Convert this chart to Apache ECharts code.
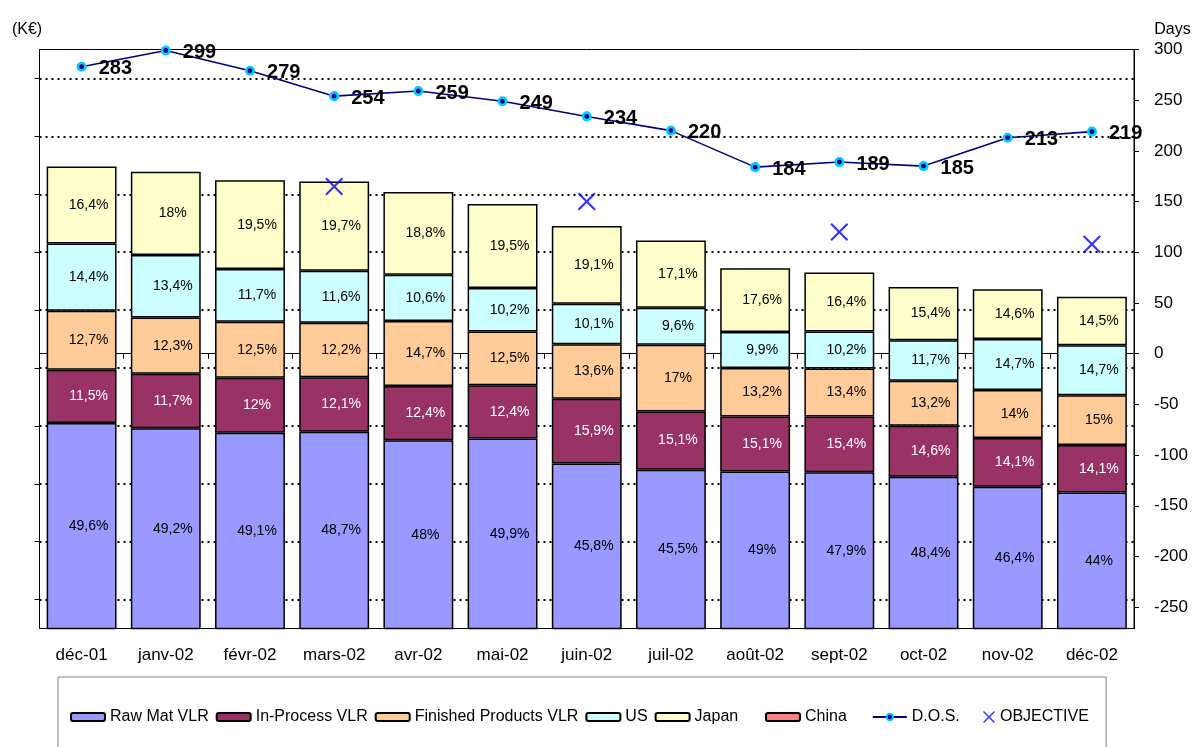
<!DOCTYPE html>
<html>
<head>
<meta charset="utf-8">
<title>Stock value and days of stock</title>
<script src="https://cdn.jsdelivr.net/npm/echarts@6/dist/echarts.min.js"></script>
<style>
  html, body { margin: 0; padding: 0; background: #fff; }
  #chart { width: 1196px; height: 747px; }
</style>
</head>
<body>
<div id="chart"></div>
<script>
const FONT = '"Liberation Sans", Arial, Helvetica, sans-serif';

const months = ['déc-01', 'janv-02', 'févr-02', 'mars-02', 'avr-02', 'mai-02', 'juin-02',
                'juil-02', 'août-02', 'sept-02', 'oct-02', 'nov-02', 'déc-02'];

// Stock value per family (K€)
const rawMat    = [405, 396, 388, 390, 375, 378, 335, 324, 321, 320, 312, 295, 285];
const inProcess = [92, 94, 95, 94, 94, 92, 112, 101, 95, 96, 88, 84, 82];
const finished  = [102, 97, 97, 94, 112, 93, 94, 115, 84, 83, 78, 83, 86];
const us        = [116, 108, 91, 90, 80, 75, 70, 64, 62, 64, 70, 88, 86];
const japan     = [133, 144, 153, 154, 143, 145, 134, 116, 110, 102, 92, 86, 84];
const china     = [null, null, null, null, null, null, null, null, null, null, null, null, null];

// Share of each family printed on the segments (%)
const rawMatPct    = [49.6, 49.2, 49.1, 48.7, 48, 49.9, 45.8, 45.5, 49, 47.9, 48.4, 46.4, 44];
const inProcessPct = [11.5, 11.7, 12, 12.1, 12.4, 12.4, 15.9, 15.1, 15.1, 15.4, 14.6, 14.1, 14.1];
const finishedPct  = [12.7, 12.3, 12.5, 12.2, 14.7, 12.5, 13.6, 17, 13.2, 13.4, 13.2, 14, 15];
const usPct        = [14.4, 13.4, 11.7, 11.6, 10.6, 10.2, 10.1, 9.6, 9.9, 10.2, 11.7, 14.7, 14.7];
const japanPct     = [16.4, 18, 19.5, 19.7, 18.8, 19.5, 19.1, 17.1, 17.6, 16.4, 15.4, 14.6, 14.5];

// Days of stock and target (Days)
const dos       = [283, 299, 279, 254, 259, 249, 234, 220, 184, 189, 185, 213, 219];
const objective = [null, null, null, 165, null, null, 150, null, null, 120, null, null, 108];

// Tick positions of both value axes
const valueTicks = [100, 200, 300, 400, 500, 600, 700, 800, 900, 1000];
const dayTicks   = [-250, -200, -150, -100, -50, 0, 50, 100, 150, 200, 250, 300];

const fmtPct = v => String(v).replace('.', ',') + '%';

function stackBar(name, values, pcts, color, textColor) {
  return {
    name: name,
    type: 'bar',
    stack: 'stock',
    yAxisIndex: 0,
    data: values,
    barCategoryGap: '17%',
    itemStyle: { color: color, borderColor: '#000', borderWidth: 1.5 },
    label: {
      show: pcts !== null,
      position: 'inside',
      offset: [7, 0],
      color: textColor,
      fontSize: 14,
      fontFamily: FONT,
      formatter: p => fmtPct(pcts[p.dataIndex])
    }
  };
}

const CROSS = 'path://M1.5,0 L9,7.5 L16.5,0 L18,1.5 L10.5,9 L18,16.5 L16.5,18 L9,10.5 L1.5,18 L0,16.5 L7.5,9 L0,1.5 Z';

const legendText = { fontSize: 16, fontFamily: FONT, color: '#000' };

const chart = echarts.init(document.getElementById('chart'));

chart.setOption({
  animation: false,
  backgroundColor: '#fff',
  textStyle: { fontFamily: FONT, color: '#000' },
  grid: {
    left: 39.5, right: 62, top: 49.5, bottom: 118.5,
    show: true, borderColor: '#000', borderWidth: 1, backgroundColor: 'transparent'
  },
  legend: [
    {
      left: 58, top: 677,
      padding: [32, 368, 40, 12],
      borderColor: '#808080', borderWidth: 1,
      itemWidth: 34, itemHeight: 8, itemGap: 7,
      textStyle: legendText,
      data: ['Raw Mat VLR', 'In-Process VLR', 'Finished Products VLR', 'US', 'Japan']
    },
    {
      left: 765, top: 677,
      padding: [32, 0, 40, 0],
      itemWidth: 34, itemHeight: 8, itemGap: 25,
      textStyle: legendText,
      data: ['China', 'D.O.S.']
    },
    {
      left: 983, top: 677,
      padding: [32, 0, 40, 0],
      itemWidth: 12, itemHeight: 12,
      textStyle: legendText,
      data: ['OBJECTIVE']
    }
  ],
  xAxis: {
    type: 'category',
    data: months,
    axisLine: { lineStyle: { color: '#000', width: 1 } },
    axisTick: { show: true, length: 5, lineStyle: { color: '#000' } },
    axisLabel: { interval: 0, margin: 18, fontSize: 17, color: '#000', fontFamily: FONT }
  },
  yAxis: [
    {
      type: 'value',
      position: 'left',
      min: 50, max: 1050, splitNumber: 10,
      name: '(K€)', nameLocation: 'end', nameGap: 12,
      nameTextStyle: { fontSize: 16, color: '#000', fontFamily: FONT, padding: [0, 25, 0, 0] },
      axisLine: { show: true, lineStyle: { color: '#000', width: 1 } },
      axisTick: { show: true, length: 5, customValues: valueTicks, lineStyle: { color: '#000' } },
      axisLabel: { show: false },
      splitLine: {
        show: true,
        lineStyle: { color: '#000', width: 2, type: [2, 4] }
      }
    },
    {
      type: 'value',
      position: 'right',
      min: -271, max: 300, splitNumber: 11,
      name: 'Days', nameLocation: 'end', nameGap: 12,
      nameTextStyle: { fontSize: 16, color: '#000', fontFamily: FONT, padding: [0, 0, 0, 77] },
      axisLine: { show: true, lineStyle: { color: '#000', width: 1 } },
      axisTick: { show: true, length: 5, customValues: dayTicks, lineStyle: { color: '#000' } },
      axisLabel: { margin: 20, fontSize: 17, color: '#000', fontFamily: FONT, showMinLabel: false },
      splitLine: { show: false }
    }
  ],
  series: [
    stackBar('Raw Mat VLR', rawMat, rawMatPct, '#9999FF', '#000'),
    stackBar('In-Process VLR', inProcess, inProcessPct, '#993366', '#fff'),
    stackBar('Finished Products VLR', finished, finishedPct, '#FFCC99', '#000'),
    stackBar('US', us, usPct, '#CCFFFF', '#000'),
    stackBar('Japan', japan, japanPct, '#FFFFCC', '#000'),
    stackBar('China', china, null, '#FF8080', '#000'),
    {
      name: 'D.O.S.',
      type: 'line',
      yAxisIndex: 1,
      data: dos,
      z: 5,
      symbol: 'circle',
      symbolSize: 7.5,
      lineStyle: { color: '#000080', width: 1.6 },
      itemStyle: { color: '#000080', borderColor: '#00CCFF', borderWidth: 2.6 },
      label: {
        show: true, position: 'right', distance: 12, offset: [0, 2],
        fontSize: 20, fontWeight: 'bold', color: '#000', fontFamily: FONT
      }
    },
    {
      name: 'OBJECTIVE',
      type: 'scatter',
      yAxisIndex: 1,
      data: objective,
      z: 6,
      symbol: CROSS,
      symbolSize: 18,
      symbolKeepAspect: true,
      itemStyle: { color: '#0000FF' }
    }
  ]
});
</script>
</body>
</html>
